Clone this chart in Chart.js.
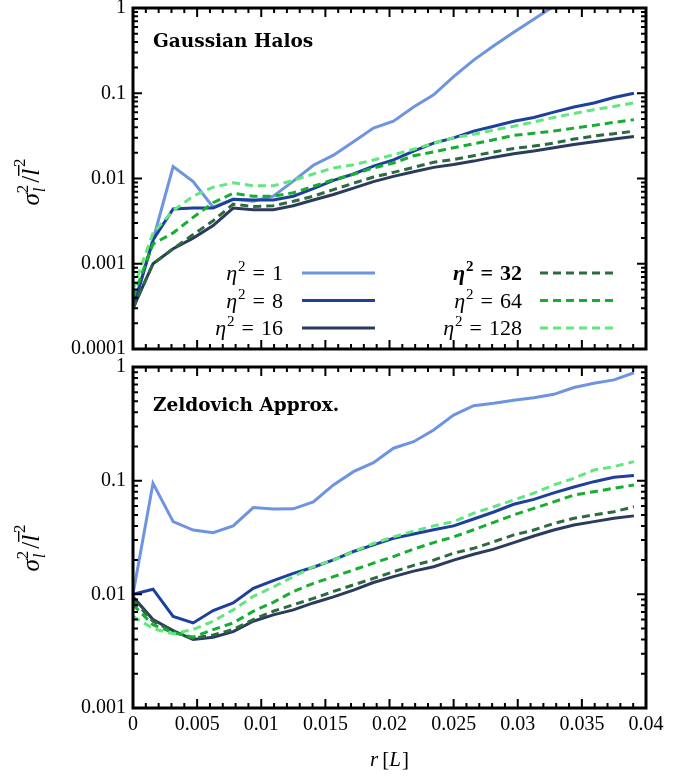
<!DOCTYPE html>
<html>
<head>
<meta charset="utf-8">
<script src="https://cdn.jsdelivr.net/npm/chart.js@4.4.0/dist/chart.umd.min.js"></script>
<style>
  body { margin: 0; background: #fff; }
  #wrap { position: relative; width: 689px; height: 776px; }
  canvas { position: absolute; left: 0; }
  #gaussChart { top: 0; }
  #zeldChart { top: 350px; }
</style>
</head>
<body>
<div id="wrap">
  <canvas id="gaussChart" width="689" height="370"></canvas>
  <canvas id="zeldChart" width="689" height="426"></canvas>
</div>
<script>
// bin centres in units of L
const radii = [0, 0.00156, 0.00313, 0.00469, 0.00625, 0.00781, 0.00938, 0.01094, 0.0125, 0.01406,
  0.01563, 0.01719, 0.01875, 0.02031, 0.02188, 0.02344, 0.025, 0.02656, 0.02813, 0.02969,
  0.03125, 0.03281, 0.03438, 0.03594, 0.0375, 0.03906];
const etaSq = [1, 8, 16, 32, 64, 128];

const xTicks = [0, 0.005, 0.01, 0.015, 0.02, 0.025, 0.03, 0.035, 0.04];
const yTicksHalos = [0.0001, 0.001, 0.01, 0.1, 1];
const yTicksZeld = [0.001, 0.01, 0.1, 1];

// Gaussian halos
const halos1 = [0.0003, 0.0019, 0.0138, 0.0092, 0.0046, 0.0057, 0.0054, 0.0062, 0.0093, 0.0143,
  0.0188, 0.027, 0.039, 0.047, 0.069, 0.096, 0.157, 0.245, 0.36, 0.52, 0.74, 1.05, 1.4, 1.9, 2.5, 3.2];
const halos8 = [0.0003, 0.0019, 0.0044, 0.0045, 0.0045, 0.0057, 0.0056, 0.0056, 0.0062, 0.0076,
  0.0095, 0.0113, 0.014, 0.0165, 0.021, 0.026, 0.030, 0.036, 0.041, 0.047, 0.052, 0.060, 0.069, 0.077, 0.089, 0.1];
const halos16 = [0.0003, 0.001, 0.0015, 0.002, 0.0028, 0.0045, 0.0043, 0.0043, 0.0048, 0.0056,
  0.0065, 0.0077, 0.0092, 0.0106, 0.012, 0.0135, 0.0146, 0.016, 0.0178, 0.0195, 0.021, 0.023, 0.025, 0.027, 0.029, 0.031];
const halos32 = [0.0003, 0.001, 0.0015, 0.0022, 0.0032, 0.005, 0.0047, 0.0048, 0.0054, 0.0062,
  0.0074, 0.0088, 0.0104, 0.0118, 0.0135, 0.0155, 0.0167, 0.0185, 0.0205, 0.0225, 0.024, 0.026, 0.029, 0.0315, 0.0335, 0.036];
const halos64 = [0.0004, 0.0017, 0.0023, 0.0035, 0.0052, 0.0067, 0.0062, 0.0062, 0.0068, 0.0081,
  0.0097, 0.0112, 0.0133, 0.0152, 0.0185, 0.0205, 0.023, 0.0255, 0.0285, 0.032, 0.034, 0.036, 0.039, 0.042, 0.0455, 0.049];
const halos128 = [0.0005, 0.0023, 0.0042, 0.0062, 0.0079, 0.0089, 0.0082, 0.0082, 0.0095, 0.0113,
  0.0133, 0.0145, 0.0165, 0.019, 0.022, 0.026, 0.030, 0.033, 0.037, 0.041, 0.046, 0.052, 0.058, 0.064, 0.070, 0.077];

// Zeldovich approximation
const zeld1 = [0.01, 0.095, 0.0436, 0.0368, 0.0349, 0.040, 0.058, 0.0564, 0.0565, 0.065,
  0.0917, 0.12, 0.144, 0.193, 0.22, 0.279, 0.378, 0.457, 0.479, 0.51, 0.537, 0.575, 0.66, 0.72, 0.77, 0.89];
const zeld8 = [0.01, 0.0111, 0.0064, 0.0056, 0.0072, 0.0084, 0.0113, 0.0132, 0.0153, 0.0173,
  0.0201, 0.0238, 0.0272, 0.0311, 0.034, 0.037, 0.040, 0.046, 0.053, 0.062, 0.0685, 0.078, 0.088, 0.098, 0.107, 0.111];
const zeld16 = [0.0095, 0.006, 0.0048, 0.004, 0.0042, 0.0047, 0.0058, 0.0066, 0.0073, 0.0084,
  0.0095, 0.0109, 0.0127, 0.0143, 0.016, 0.0175, 0.020, 0.0225, 0.025, 0.0285, 0.0326, 0.0368, 0.0407, 0.0436, 0.0467, 0.049];
const zeld32 = [0.0089, 0.0058, 0.0047, 0.0041, 0.0044, 0.0049, 0.006, 0.0071, 0.0081, 0.0092,
  0.0106, 0.0121, 0.0138, 0.0158, 0.018, 0.020, 0.023, 0.0254, 0.029, 0.0333, 0.0368, 0.042, 0.0467, 0.050, 0.0533, 0.059];
const zeld64 = [0.0081, 0.0054, 0.0046, 0.0042, 0.0049, 0.0056, 0.0071, 0.0085, 0.0106, 0.0125,
  0.0143, 0.0164, 0.0188, 0.0215, 0.025, 0.0285, 0.032, 0.037, 0.043, 0.050, 0.057, 0.065, 0.0748, 0.080, 0.0857, 0.0917];
const zeld128 = [0.0064, 0.005, 0.0045, 0.0049, 0.0058, 0.0073, 0.0096, 0.0116, 0.0143, 0.0175,
  0.020, 0.0238, 0.028, 0.032, 0.036, 0.040, 0.0436, 0.0517, 0.059, 0.0676, 0.0776, 0.0917, 0.105, 0.124, 0.133, 0.147];

const colors = ['#6e94e1', '#1d409c', '#2b3b5e', '#2e6a3f', '#16ae30', '#62e67f'];
const dashes = [[], [], [], [8, 5], [8, 5], [8, 5]];

const SERIF = "'Liberation Serif', 'DejaVu Serif', serif";
Chart.defaults.font.family = SERIF;
Chart.defaults.color = '#000';

function makeDatasets(series) {
  return series.map((vals, i) => ({
    label: 'eta2=' + etaSq[i],
    data: radii.map((r, k) => ({ x: r, y: vals[k] })),
    borderColor: colors[i],
    borderWidth: 3,
    borderDash: dashes[i],
    pointRadius: 0,
    tension: 0,
    order: series.length - i
  }));
}

// text made of pieces with their own font and baseline shift
function runsWidth(ctx, runs) {
  let w = 0;
  runs.forEach(r => { ctx.font = r.f; w += ctx.measureText(r.t).width + (r.pad || 0); });
  return w;
}
function drawRuns(ctx, runs, x, y) {
  runs.forEach(r => {
    ctx.font = r.f;
    ctx.fillText(r.t, x, y + (r.dy || 0));
    x += ctx.measureText(r.t).width + (r.pad || 0);
  });
}

function etaRuns(value, bold) {
  const b = bold ? 'bold ' : '';
  return [
    { t: 'η', f: b + 'italic 22px ' + SERIF, pad: 1 },
    { t: '2', f: b + '15px ' + SERIF, dy: -9, pad: 7 },
    { t: '=', f: b + '22px ' + SERIF, pad: 7 },
    { t: String(value), f: b + '22px ' + SERIF }
  ];
}

function drawYTitle(ctx, cx, cy) {
  ctx.save();
  ctx.translate(cx, cy);
  ctx.rotate(-Math.PI / 2);
  ctx.fillStyle = '#000';
  const big = 'italic 25px ' + SERIF, small = 'italic 17px ' + SERIF, smallUp = '17px ' + SERIF;
  ctx.font = big; const wSig = ctx.measureText('σ').width; const wl = ctx.measureText('l').width;
  ctx.font = smallUp; const w2 = ctx.measureText('2').width;
  ctx.font = '25px ' + SERIF; const wSl = ctx.measureText('/').width;
  const total = wSig + w2 + 2 + wSl + wl + 2 + w2;
  let x = -total / 2;
  const base = 8;
  ctx.font = big; ctx.fillText('σ', x, base); x += wSig;
  ctx.font = smallUp; ctx.fillText('2', x, base - 11);
  ctx.font = small; ctx.fillText('l', x + 1, base + 6);
  x += w2 + 2;
  ctx.font = '25px ' + SERIF; ctx.fillText('/', x, base); x += wSl;
  ctx.font = big; ctx.fillText('l', x, base);
  ctx.fillRect(x, base - 21, wl + 4, 1.4);
  x += wl + 2;
  ctx.font = smallUp; ctx.fillText('2', x, base - 14);
  ctx.restore();
}

// frame, inward ticks on all four sides, panel name, legend and axis titles
function panelPlugin(cfg) {
  return {
    id: 'panel',
    afterDatasetsDraw(chart) {
      const { ctx, chartArea: a, scales: { x, y } } = chart;
      ctx.save();
      ctx.strokeStyle = '#000';
      ctx.lineWidth = 2;
      ctx.beginPath();
      for (let k = 0; k <= 40; k++) {
        const px = x.getPixelForValue(k / 1000);
        const len = k % 5 === 0 ? 9 : 5;
        ctx.moveTo(px, a.bottom); ctx.lineTo(px, a.bottom - len);
        ctx.moveTo(px, a.top); ctx.lineTo(px, a.top + len);
      }
      const lo = Math.round(Math.log10(y.min)), hi = Math.round(Math.log10(y.max));
      for (let e = lo; e <= hi; e++) {
        for (let m = 1; m <= 9; m++) {
          if (e === hi && m > 1) break;
          const py = y.getPixelForValue(m * Math.pow(10, e));
          const len = m === 1 ? 9 : 5;
          ctx.moveTo(a.left, py); ctx.lineTo(a.left + len, py);
          ctx.moveTo(a.right, py); ctx.lineTo(a.right - len, py);
        }
      }
      ctx.stroke();
      ctx.lineWidth = 3;
      ctx.strokeRect(a.left, a.top, a.width, a.height);

      ctx.fillStyle = '#000';
      ctx.textBaseline = 'alphabetic';
      ctx.textAlign = 'left';
      ctx.font = 'bold 18.5px "DejaVu Serif", serif';
      ctx.fillText(cfg.title, a.left + 20, a.top + cfg.titleDy);

      if (cfg.legend) {
        chart.data.datasets.forEach((ds, i) => {
          const col = i < 3 ? 0 : 1;
          const row = i % 3;
          const ly = 273 + row * 27.5;
          const textRight = col === 0 ? 283 : 522;
          const lineLeft = col === 0 ? 302 : 540;
          const runs = etaRuns(etaSq[i], i === 3);
          drawRuns(ctx, runs, textRight - runsWidth(ctx, runs), ly + 7);
          ctx.strokeStyle = ds.borderColor;
          ctx.lineWidth = 3;
          ctx.setLineDash(ds.borderDash);
          ctx.beginPath();
          ctx.moveTo(lineLeft, ly);
          ctx.lineTo(lineLeft + 73, ly);
          ctx.stroke();
          ctx.setLineDash([]);
        });
      }

      if (cfg.xTitle) {
        const runs = [
          { t: 'r', f: 'italic 21px ' + SERIF, pad: 4 },
          { t: '[', f: '21px ' + SERIF },
          { t: 'L', f: 'italic 21px ' + SERIF, pad: 1 },
          { t: ']', f: '21px ' + SERIF }
        ];
        const cx = (a.left + a.right) / 2;
        drawRuns(ctx, runs, cx - runsWidth(ctx, runs) / 2, cfg.xTitleY);
      }

      drawYTitle(ctx, 31, cfg.yTitleY);
      ctx.restore();
    }
  };
}

function panelOptions(yMin, yTicks, showX, pad) {
  return {
    responsive: false,
    animation: false,
    events: [],
    layout: { padding: pad },
    plugins: { legend: { display: false }, tooltip: { enabled: false } },
    scales: {
      x: {
        type: 'linear', min: 0, max: 0.04, display: showX,
        grid: { display: false, drawTicks: false },
        border: { display: false },
        afterBuildTicks: s => { s.ticks = xTicks.map(v => ({ value: v })); },
        afterFit: s => {
          s.height = showX ? 68 : 0;
          s.paddingLeft = 0; s.paddingRight = 0;
        },
        ticks: { font: { size: 20 }, padding: 5, maxRotation: 0, autoSkip: false, callback: v => String(v) }
      },
      y: {
        type: 'logarithmic', min: yMin, max: 1,
        grid: { display: false, drawTicks: false },
        border: { display: false },
        afterBuildTicks: s => { s.ticks = yTicks.map(v => ({ value: v })); },
        afterFit: s => {
          s.width = 133;
          s.paddingTop = 0; s.paddingBottom = 0;
        },
        ticks: { font: { size: 20 }, padding: 7, autoSkip: false, callback: v => String(v) }
      }
    }
  };
}

new Chart(document.getElementById('gaussChart'), {
  type: 'line',
  data: { datasets: makeDatasets([halos1, halos8, halos16, halos32, halos64, halos128]) },
  options: panelOptions(0.0001, yTicksHalos, false, { top: 8, right: 43, bottom: 21, left: 0 }),
  plugins: [panelPlugin({ title: 'Gaussian Halos', titleDy: 39, legend: true, yTitleY: 182 })]
});

new Chart(document.getElementById('zeldChart'), {
  type: 'line',
  data: { datasets: makeDatasets([zeld1, zeld8, zeld16, zeld32, zeld64, zeld128]) },
  options: panelOptions(0.001, yTicksZeld, true, { top: 17, right: 43, bottom: 0, left: 0 }),
  plugins: [panelPlugin({ title: 'Zeldovich Approx.', titleDy: 44, legend: false, xTitle: true, xTitleY: 416, yTitleY: 198 })]
});
</script>
</body>
</html>
